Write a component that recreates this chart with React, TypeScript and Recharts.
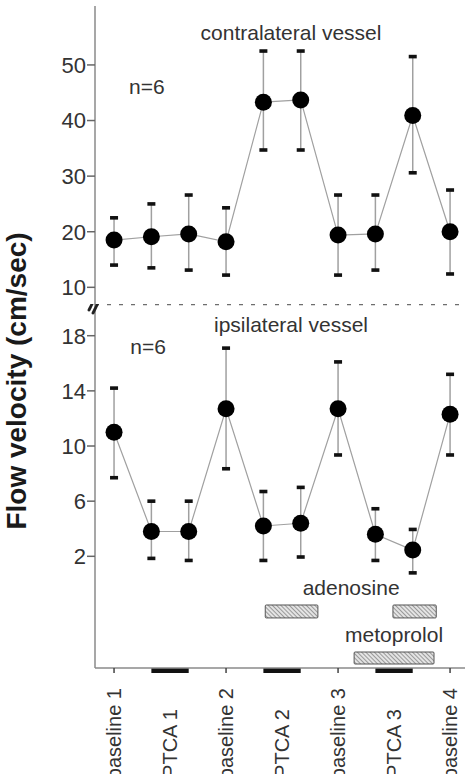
import React from 'react';
import {
  LineChart,
  Line,
  XAxis,
  YAxis,
  ErrorBar,
  ReferenceArea,
  ReferenceLine,
  ReferenceDot,
} from 'recharts';

// Flow velocity during serial PTCA, contralateral vs ipsilateral vessel.
// Ten measurement points: each baseline, then start / end of each occlusion.
const timepoints = [0, 1, 2, 3, 4, 5, 6, 7, 8, 9];

// contralateral vessel (cm/sec): mean, upper and lower whisker ends
const contraMean = [18.5, 19.1, 19.6, 18.2, 43.3, 43.7, 19.4, 19.6, 40.9, 20.0];
const contraHigh = [22.5, 25.0, 26.6, 24.3, 52.5, 52.5, 26.6, 26.6, 51.5, 27.5];
const contraLow = [14.0, 13.5, 13.1, 12.2, 34.7, 34.7, 12.2, 13.1, 30.6, 12.4];

// ipsilateral vessel (cm/sec)
const ipsiMean = [11.0, 3.8, 3.8, 12.7, 4.2, 4.4, 12.7, 3.6, 2.45, 12.3];
const ipsiHigh = [14.2, 6.0, 6.0, 17.1, 6.7, 7.0, 16.1, 5.45, 3.95, 15.2];
const ipsiLow = [7.7, 1.85, 1.7, 8.35, 1.7, 1.95, 9.35, 1.7, 0.8, 9.35];

const phaseLabels = ['baseline 1', 'PTCA 1', 'baseline 2', 'PTCA 2', 'baseline 3', 'PTCA 3', 'baseline 4'];
const phaseTicks = [0, 1.5, 3, 4.5, 6, 7.5, 9];
const occlusions = [[1, 2], [4, 5], [7, 8]];
const adenosine = [[4.05, 5.46], [7.47, 8.63]];
const metoprolol = [[6.43, 8.57]];

const contraTicks = [10, 20, 30, 40, 50];
const ipsiTicks = [2, 6, 10, 14, 18];

const xDomain: [number, number] = [-0.51, 9.4];
const contraDomain: [number, number] = [7, 60.6];
const ipsiDomain: [number, number] = [-6.1, 20.3];

const FONT = "'Liberation Sans', Arial, Helvetica, sans-serif";
const FRAME = '#8a8a8a';
const TEXT = '#333';

const build = (mean: number[], hi: number[], lo: number[]) =>
  timepoints.map((t, i) => ({
    t,
    mean: mean[i],
    hi: hi[i],
    lo: lo[i],
    err: [mean[i] - lo[i], hi[i] - mean[i]],
  }));

const contraData = build(contraMean, contraHigh, contraLow);
const ipsiData = build(ipsiMean, ipsiHigh, ipsiLow);

const capDot = (props: any) => {
  const { cx, cy, index } = props;
  if (cx == null || cy == null) return <g key={`c-${index}`} />;
  return <rect key={`c-${index}`} x={cx - 4} y={cy - 1.8} width={8} height={3.6} fill="#111" />;
};

// axis break "//" on the left frame line
const BreakMark = (props: any) => {
  const { cx, cy } = props;
  return (
    <g stroke="#222" strokeWidth={2.8} strokeLinecap="round">
      <line x1={cx - 6} y1={cy + 6} x2={cx + 1} y2={cy - 8} />
      <line x1={cx - 2} y1={cy + 9} x2={cx + 5} y2={cy - 5} />
    </g>
  );
};

const PhaseTick = (props: any) => {
  const { x, y, payload } = props;
  const label = phaseLabels[phaseTicks.indexOf(payload.value)];
  const isBaseline = label.startsWith('baseline');
  return (
    <g>
      {isBaseline && <line x1={x} y1={y} x2={x} y2={y + 5} stroke="#444" strokeWidth={1.5} />}
      <text
        transform={`translate(${x},${y + (isBaseline ? 20 : 41)}) rotate(-90)`}
        textAnchor="end"
        dy="0.35em"
        fontSize={20}
        fill={TEXT}
        fontFamily={FONT}
      >
        {label}
      </text>
    </g>
  );
};

const yTick = { fontSize: 22, fill: TEXT, fontFamily: FONT };
const note = (value: string) => ({ value, position: 'center' as const, fontSize: 21, fill: TEXT, fontFamily: FONT });

export default function App() {
  const series = (data: any[]) => [
    <Line key="wh" dataKey="mean" data={data} stroke="none" dot={false} activeDot={false} isAnimationActive={false}>
      <ErrorBar dataKey="err" width={0} stroke="#a0a0a0" strokeWidth={1.5} direction="y" />
    </Line>,
    <Line
      key="mean"
      dataKey="mean"
      stroke="#a0a0a0"
      strokeWidth={1.2}
      dot={{ r: 8.5, fill: '#000', stroke: '#000', strokeWidth: 0 }}
      activeDot={false}
      isAnimationActive={false}
    />,
    <Line key="hi" dataKey="hi" stroke="none" dot={capDot} activeDot={false} isAnimationActive={false} />,
    <Line key="lo" dataKey="lo" stroke="none" dot={capDot} activeDot={false} isAnimationActive={false} />,
  ];

  return (
    <div style={{ position: 'absolute', left: 0, top: 0, width: 472, height: 774, overflow: 'hidden', background: '#fff' }}>
      <div style={{ position: 'absolute', left: 0, top: 0 }}>
        <LineChart width={472} height={304} data={contraData} margin={{ top: 6, right: 7, bottom: 0, left: 0 }}>
          <XAxis
            type="number"
            dataKey="t"
            orientation="top"
            height={0}
            domain={xDomain}
            allowDataOverflow
            tick={false}
            tickLine={false}
            axisLine={{ stroke: FRAME, strokeWidth: 1.5 }}
          />
          <YAxis
            type="number"
            width={95}
            domain={contraDomain}
            ticks={contraTicks}
            allowDataOverflow
            tickSize={8}
            tickMargin={1}
            tick={yTick}
            tickLine={{ stroke: '#666', strokeWidth: 1.5 }}
            axisLine={{ stroke: FRAME, strokeWidth: 1.5 }}
          />
          <YAxis
            yAxisId="right"
            orientation="right"
            width={0}
            domain={contraDomain}
            tick={false}
            tickLine={false}
            axisLine={{ stroke: FRAME, strokeWidth: 1.5 }}
          />
          {series(contraData)}
          <ReferenceDot x={4.74} y={55.75} r={0} fill="none" stroke="none" label={note('contralateral vessel')} />
          <ReferenceDot x={0.88} y={46.2} r={0} fill="none" stroke="none" label={note('n=6')} />
        </LineChart>
      </div>

      <div style={{ position: 'absolute', left: 0, top: 304 }}>
        <LineChart width={472} height={470} data={ipsiData} margin={{ top: 0, right: 7, bottom: 0, left: 0 }}>
          <defs>
            <pattern id="hatch" width="3" height="3" patternUnits="userSpaceOnUse" patternTransform="rotate(-45)">
              <rect width="3" height="3" fill="#e4e4e4" />
              <line x1="0" y1="0" x2="0" y2="3" stroke="#707070" strokeWidth="1.3" />
            </pattern>
          </defs>
          <XAxis
            type="number"
            dataKey="t"
            orientation="bottom"
            height={106}
            domain={xDomain}
            allowDataOverflow
            ticks={phaseTicks}
            interval={0}
            tickSize={0}
            tickMargin={0}
            tickLine={false}
            tick={<PhaseTick />}
            axisLine={{ stroke: FRAME, strokeWidth: 1.5 }}
          />
          <YAxis
            type="number"
            width={95}
            domain={ipsiDomain}
            ticks={ipsiTicks}
            allowDataOverflow
            tickSize={8}
            tickMargin={1}
            tick={yTick}
            tickLine={{ stroke: '#666', strokeWidth: 1.5 }}
            axisLine={{ stroke: FRAME, strokeWidth: 1.5 }}
          />
          <YAxis
            yAxisId="right"
            orientation="right"
            width={0}
            domain={ipsiDomain}
            tick={false}
            tickLine={false}
            axisLine={{ stroke: FRAME, strokeWidth: 1.5 }}
          />
          <ReferenceLine y={ipsiDomain[1]} stroke="#6e6e6e" strokeWidth={2.5} strokeDasharray="4 8" ifOverflow="visible" />
          <ReferenceDot x={xDomain[0]} y={ipsiDomain[1]} r={0} ifOverflow="visible" shape={BreakMark} />
          {adenosine.map(([a, b], i) => (
            <ReferenceArea key={`ad-${i}`} x1={a} x2={b} y1={-1.53} y2={-2.47} fill="url(#hatch)" fillOpacity={1} stroke="#555" strokeWidth={1} radius={1} />
          ))}
          {metoprolol.map(([a, b], i) => (
            <ReferenceArea key={`me-${i}`} x1={a} x2={b} y1={-4.94} y2={-5.81} fill="url(#hatch)" fillOpacity={1} stroke="#555" strokeWidth={1} radius={1} />
          ))}
          {occlusions.map(([a, b], i) => (
            <ReferenceArea key={`oc-${i}`} x1={a} x2={b} y1={ipsiDomain[0]} y2={ipsiDomain[0] - 0.36} fill="#111" fillOpacity={1} stroke="none" ifOverflow="visible" />
          ))}
          {series(ipsiData)}
          <ReferenceDot x={4.74} y={18.8} r={0} fill="none" stroke="none" label={note('ipsilateral vessel')} />
          <ReferenceDot x={0.91} y={17.2} r={0} fill="none" stroke="none" label={note('n=6')} />
          <ReferenceDot x={6.35} y={-0.3} r={0} fill="none" stroke="none" label={note('adenosine')} />
          <ReferenceDot x={7.5} y={-3.7} r={0} fill="none" stroke="none" label={note('metoprolol')} />
        </LineChart>
      </div>

      <div
        style={{
          position: 'absolute',
          left: 17,
          top: 381,
          transform: 'translate(-50%, -50%) rotate(-90deg)',
          whiteSpace: 'nowrap',
          fontFamily: FONT,
          fontWeight: 'bold',
          fontSize: 28,
          color: '#1a1a1a',
        }}
      >
        Flow velocity (cm/sec)
      </div>
    </div>
  );
}
